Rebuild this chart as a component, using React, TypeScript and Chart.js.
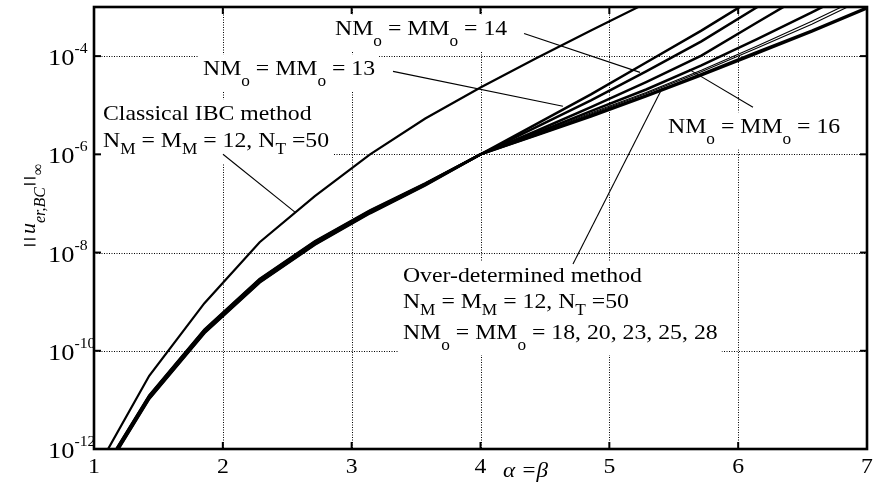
import React, { useEffect, useRef } from "react";
import { Chart, registerables } from "chart.js";

Chart.register(...registerables);

// ---------- data (y values stored as log10 of ||u_er,BC||_inf) ----------
const alphaValues = [1, 1.4286, 1.8571, 2.2857, 2.7143, 3.1429, 3.5714, 4, 4.4286, 4.8571, 5.2857, 5.7143, 6.1429, 6.5714, 7];

const classicalLog = [-12.51, -10.51, -9.03, -7.79, -6.85, -6.0, -5.27, -4.64, -4.05, -3.48, -2.92, -2.38, -1.85, -1.35, -0.85];
const nmo13Log = [-12.74, -10.91, -9.57, -8.54, -7.77, -7.14, -6.59, -6.0, -5.39, -4.78, -4.13, -3.48, -2.79, -2.05, -1.32];
const nmo14Log = [-12.75, -10.92, -9.58, -8.55, -7.78, -7.15, -6.6, -6.0, -5.45, -4.9, -4.31, -3.7, -3.01, -2.3, -1.57];
const nmo16Log = [-12.76, -10.93, -9.59, -8.56, -7.79, -7.16, -6.6, -6.0, -5.53, -5.04, -4.53, -3.99, -3.32, -2.66, -1.97];
const nmo18Log = [-12.77, -10.94, -9.6, -8.57, -7.8, -7.17, -6.61, -6.0, -5.57, -5.12, -4.68, -4.19, -3.66, -3.11, -2.54];
const nmo20Log = [-12.78, -10.95, -9.61, -8.58, -7.81, -7.18, -6.61, -6.0, -5.59, -5.16, -4.74, -4.29, -3.8, -3.29, -2.75];
const nmo23Log = [-12.79, -10.96, -9.62, -8.59, -7.82, -7.18, -6.62, -6.0, -5.6, -5.18, -4.76, -4.32, -3.84, -3.35, -2.81];
const nmo25Log = [-12.8, -10.97, -9.63, -8.6, -7.83, -7.19, -6.62, -6.0, -5.61, -5.21, -4.8, -4.37, -3.92, -3.48, -3.01];
const nmo28Log = [-12.81, -10.98, -9.64, -8.61, -7.84, -7.2, -6.63, -6.0, -5.62, -5.23, -4.82, -4.39, -3.95, -3.5, -3.03];

const xTickValues = [1, 2, 3, 4, 5, 6, 7];
const yTickExponents = [-12, -10, -8, -6, -4];
const xGridValues = [2, 3, 4, 5, 6];
const yGridExponents = [-10, -8, -6, -4];

const series = [
  { name: "Classical IBC", values: classicalLog, width: 2.2 },
  { name: "NMo=MMo=13", values: nmo13Log, width: 2.5 },
  { name: "NMo=MMo=14", values: nmo14Log, width: 2.5 },
  { name: "NMo=MMo=16", values: nmo16Log, width: 2.5 },
  { name: "NMo=MMo=18", values: nmo18Log, width: 2.5 },
  { name: "NMo=MMo=20", values: nmo20Log, width: 1.1 },
  { name: "NMo=MMo=23", values: nmo23Log, width: 1.1 },
  { name: "NMo=MMo=25", values: nmo25Log, width: 2.5 },
  { name: "NMo=MMo=28", values: nmo28Log, width: 2.5 },
];

// ---------- text helpers ----------
const SERIF = '"Liberation Serif", "Times New Roman", Times, serif';
const SX = 1.08;

type Seg = { t: string; size?: number; it?: boolean; dy?: number; bars?: [number, number, number] };

const segFont = (s: Seg) => `${s.it ? "italic " : ""}${s.size ?? 22}px ${SERIF}`;

function richWidth(ctx: CanvasRenderingContext2D, segs: Seg[], sx: number) {
  let w = 0;
  for (const s of segs) {
    if (s.bars) { w += s.bars[2]; continue; }
    ctx.font = segFont(s);
    w += ctx.measureText(s.t).width * sx;
  }
  return w;
}

function drawRich(ctx: CanvasRenderingContext2D, segs: Seg[], x: number, y: number, sx: number) {
  let cx = x;
  for (const s of segs) {
    if (s.bars) {
      ctx.save();
      ctx.lineWidth = 1.4;
      ctx.strokeStyle = "#000";
      for (const off of [s.bars[0], s.bars[1]]) {
        ctx.beginPath();
        ctx.moveTo(cx + off, y - 11);
        ctx.lineTo(cx + off, y + 0.5);
        ctx.stroke();
      }
      ctx.restore();
      cx += s.bars[2];
      continue;
    }
    ctx.font = segFont(s);
    ctx.save();
    ctx.translate(cx, y + (s.dy ?? 0));
    ctx.scale(sx, 1);
    ctx.fillStyle = "#000";
    ctx.textAlign = "left";
    ctx.textBaseline = "alphabetic";
    ctx.fillText(s.t, 0, 0);
    ctx.restore();
    cx += ctx.measureText(s.t).width * sx;
  }
  return cx - x;
}

const nmLine = (val: string): Seg[] => [
  { t: "NM" }, { t: "o", size: 16, dy: 11 }, { t: " = MM" }, { t: "o", size: 16, dy: 11 }, { t: " = " + val },
];
const nLine: Seg[] = [
  { t: "N" }, { t: "M", size: 16, dy: 7 }, { t: " = M" }, { t: "M", size: 16, dy: 7 }, { t: " = 12, N" }, { t: "T", size: 16, dy: 7 }, { t: " =50" },
];

type Note = { x: number; y: number; lines: Seg[][]; gaps: number[]; from: [number, number]; to: [number, number] };

const notes: Note[] = [
  { x: 2.871, y: -3.579, lines: [nmLine("14")], gaps: [0], from: [4.338, -3.539], to: [5.238, -4.331] },
  { x: 1.846, y: -4.392, lines: [nmLine("13")], gaps: [0], from: [3.321, -4.311], to: [4.64, -5.022] },
  { x: 1.07, y: -5.307, lines: [[{ t: "Classical IBC method" }], nLine], gaps: [0, 27], from: [2.001, -5.998], to: [2.56, -7.177] },
  { x: 5.456, y: -5.571, lines: [nmLine("16")], gaps: [0], from: [6.115, -5.043], to: [5.619, -4.27] },
  {
    x: 3.398, y: -8.6,
    lines: [[{ t: "Over-determined method" }], nLine, nmLine("18, 20, 23, 25, 28")],
    gaps: [0, 26, 57], from: [4.718, -8.234], to: [5.409, -4.657],
  },
];

const yLabelSegs: Seg[] = [
  { t: "", bars: [5, 11, 16] },
  { t: "u", it: true },
  { t: "er,BC", size: 16, it: true, dy: 10 },
  { t: "", bars: [3, 9, 12] },
  { t: "\u221E", size: 16, dy: 8 },
];
const xLabelSegs: Seg[] = [{ t: "\u03B1 =\u03B2", it: true }];

const decorPlugin = {
  id: "decor",
  beforeDatasetsDraw(chart: any) {
    const { ctx, chartArea: a, scales } = chart;
    const xs = scales.x, ys = scales.y;
    ctx.save();
    // dotted grid
    ctx.strokeStyle = "#000";
    ctx.lineWidth = 1;
    ctx.setLineDash([1, 1.5]);
    for (const v of xGridValues) {
      const px = Math.round(xs.getPixelForValue(v)) + 0.5;
      ctx.beginPath(); ctx.moveTo(px, a.top); ctx.lineTo(px, a.bottom); ctx.stroke();
    }
    for (const e of yGridExponents) {
      const py = Math.round(ys.getPixelForValue(Math.pow(10, e))) + 0.5;
      ctx.beginPath(); ctx.moveTo(a.left, py); ctx.lineTo(a.right, py); ctx.stroke();
    }
    ctx.setLineDash([]);
    // white boxes behind annotation text
    ctx.fillStyle = "#fff";
    for (const n of notes) {
      const x0 = xs.getPixelForValue(n.x);
      const y0 = ys.getPixelForValue(Math.pow(10, n.y));
      n.lines.forEach((ln, i) => {
        const w = richWidth(ctx, ln, SX);
        const hasSub = ln.some((s) => (s.dy ?? 0) > 0);
        const by = y0 + n.gaps[i];
        ctx.fillRect(x0 - 4, by - 21, w + 8, 21 + (hasSub ? 16 : 7));
      });
    }
    ctx.restore();
  },
  afterDatasetsDraw(chart: any) {
    const { ctx, chartArea: a, scales } = chart;
    const xs = scales.x, ys = scales.y;
    ctx.save();
    ctx.strokeStyle = "#000";
    ctx.fillStyle = "#000";
    // inward ticks
    ctx.lineWidth = 2;
    for (const v of xGridValues) {
      const px = xs.getPixelForValue(v);
      ctx.beginPath(); ctx.moveTo(px, a.top); ctx.lineTo(px, a.top + 7); ctx.stroke();
      ctx.beginPath(); ctx.moveTo(px, a.bottom); ctx.lineTo(px, a.bottom - 7); ctx.stroke();
    }
    for (const e of yGridExponents) {
      const py = ys.getPixelForValue(Math.pow(10, e));
      ctx.beginPath(); ctx.moveTo(a.left, py); ctx.lineTo(a.left + 7, py); ctx.stroke();
      ctx.beginPath(); ctx.moveTo(a.right, py); ctx.lineTo(a.right - 7, py); ctx.stroke();
    }
    // frame
    ctx.lineWidth = 2.6;
    ctx.strokeRect(a.left, a.top, a.right - a.left, a.bottom - a.top);

    // x tick labels
    for (const v of xTickValues) {
      const px = xs.getPixelForValue(v);
      const segs: Seg[] = [{ t: String(v) }];
      const w = richWidth(ctx, segs, SX);
      drawRich(ctx, segs, px - w / 2, a.bottom + 24, SX);
    }
    // y tick labels 10^e
    for (const e of yTickExponents) {
      const py = ys.getPixelForValue(Math.pow(10, e));
      const base: Seg[] = [{ t: "10", size: 24 }];
      const w = drawRich(ctx, base, a.left - 46, py + 9, 1.1);
      drawRich(ctx, [{ t: String(e), size: 15 }], a.left - 46 + w, py - 3, 1.05);
    }
    // axis titles
    drawRich(ctx, xLabelSegs, xs.getPixelForValue(4.175), a.bottom + 28, 1.05);
    ctx.save();
    ctx.translate(a.left - 59, ys.getPixelForValue(Math.pow(10, -7.95)));
    ctx.rotate(-Math.PI / 2);
    drawRich(ctx, yLabelSegs, 0, 0, 1.0);
    ctx.restore();

    // annotations
    ctx.lineWidth = 1.1;
    for (const n of notes) {
      const x0 = xs.getPixelForValue(n.x);
      const y0 = ys.getPixelForValue(Math.pow(10, n.y));
      n.lines.forEach((ln, i) => drawRich(ctx, ln, x0, y0 + n.gaps[i], SX));
      ctx.beginPath();
      ctx.moveTo(xs.getPixelForValue(n.from[0]), ys.getPixelForValue(Math.pow(10, n.from[1])));
      ctx.lineTo(xs.getPixelForValue(n.to[0]), ys.getPixelForValue(Math.pow(10, n.to[1])));
      ctx.stroke();
    }
    ctx.restore();
  },
};

export default function App() {
  const canvasRef = useRef<HTMLCanvasElement>(null);
  useEffect(() => {
    const canvas = canvasRef.current;
    if (!canvas) return;
    const chart = new Chart(canvas, {
      type: "line",
      data: {
        datasets: series.map((s) => ({
          label: s.name,
          data: alphaValues.map((a, i) => ({ x: a, y: Math.pow(10, s.values[i]) })),
          borderColor: "#000",
          backgroundColor: "#000",
          borderWidth: s.width,
          pointRadius: 0,
          fill: false,
          tension: 0,
          clip: 0,
        })),
      },
      options: {
        animation: false,
        responsive: true,
        maintainAspectRatio: false,
        events: [],
        layout: { padding: { left: 94, top: 7, right: 14, bottom: 40 } },
        plugins: { legend: { display: false }, tooltip: { enabled: false } },
        scales: {
          x: { type: "linear", min: 1, max: 7, display: false },
          y: { type: "logarithmic", min: 1e-12, max: 1e-3, display: false },
        },
      },
      plugins: [decorPlugin],
    } as any);
    return () => chart.destroy();
  }, []);
  return (
    <div style={{ position: "absolute", left: 0, top: 0, width: 881, height: 489, background: "#fff" }}>
      <canvas ref={canvasRef} />
    </div>
  );
}
